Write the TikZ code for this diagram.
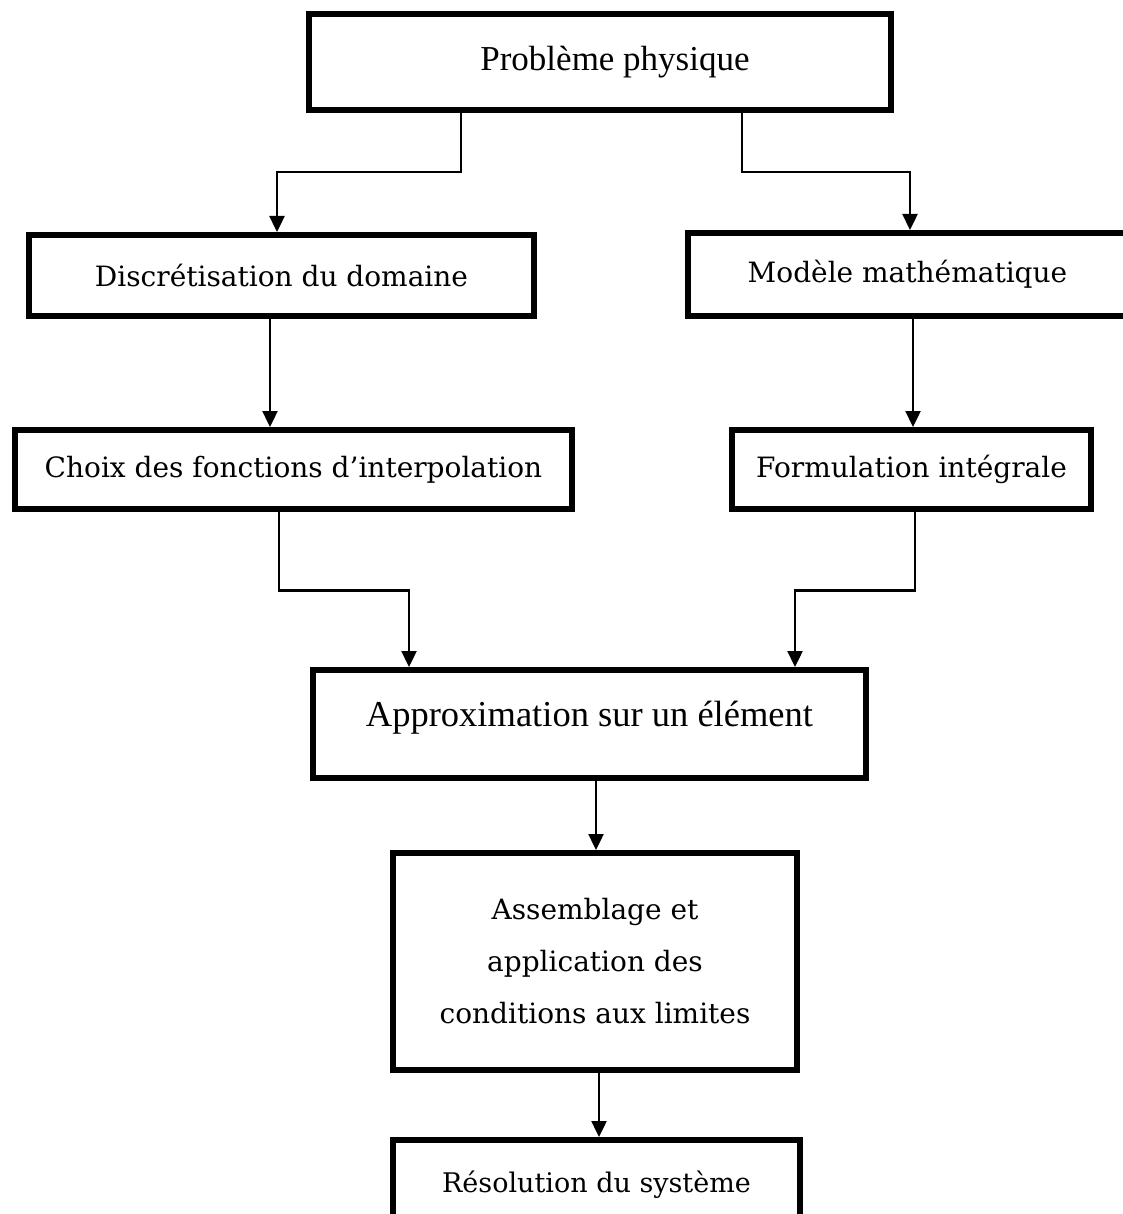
\documentclass[tikz,border=0pt]{standalone}
\usepackage{fontspec}
\setmainfont{DejaVu Serif}
\newfontfamily\narrowserif{Liberation Serif}
\usetikzlibrary{arrows.meta}
\begin{document}
\begin{tikzpicture}[x=1pt,y=-1pt,
  box/.style={draw, line width=5.7pt, inner sep=0pt, align=center,
              font=\fontsize{28}{52}\selectfont},
  narrowtext/.style={font=\narrowserif\fontsize{35}{40}\selectfont},
  conn/.style={line width=2.4pt, -{Triangle[length=16pt,width=15pt]}}]
  \useasboundingbox (0,0) rectangle (1123,1214);
  \clip (0,0) rectangle (1123,1214);

  % boxes of the flow chart
  \node[box, narrowtext, minimum width=582.3pt, minimum height=96.3pt] (P) at (600,62) {\hspace*{30pt}Problème physique};
  \node[box, minimum width=505.3pt, minimum height=81.3pt] (D) at (281.5,275.5) {Discrétisation du domaine};
  \node[box, minimum width=439.3pt, minimum height=83.3pt] (M) at (907.5,274.5) {Modèle mathématique};
  \node[box, minimum width=557.3pt, minimum height=79.3pt] (C) at (293.5,469.5) {Choix des fonctions d’interpolation};
  \node[box, minimum width=359.3pt, minimum height=79.3pt] (F) at (911.5,469.5) {Formulation intégrale};
  \node[box, font=\narrowserif\fontsize{36.5}{42}\selectfont, text depth=20pt,
        minimum width=553.3pt, minimum height=108.3pt] (A) at (589.5,724) {Approximation sur un élément};
  \node[box, minimum width=404.3pt, minimum height=217.3pt] (S) at (595,961.5) {Assemblage et\\application des\\conditions aux limites};
  \node[box, font=\fontsize{27}{32}\selectfont, minimum width=407.3pt, minimum height=90.3pt] (R) at (596.5,1185) {Résolution du système};

  % connectors
  \draw[conn] ([xshift=-139pt]P.south) -- ++(0,59) -| ([xshift=-4.5pt]D.north);
  \draw[conn] ([xshift=142pt]P.south) -- ++(0,59) -| ([xshift=2.5pt]M.north);
  \draw[conn] ([xshift=-11.5pt]D.south) -- ([xshift=-11.5pt]D.south |- C.north);
  \draw[conn] ([xshift=5.5pt]M.south) -- ([xshift=5.5pt]M.south |- F.north);
  \draw[conn] ([xshift=-14.5pt]C.south) -- ++(0,78.5) -| ([xshift=-180.5pt]A.north);
  \draw[conn] ([xshift=3.5pt]F.south) -- ++(0,78.5) -| ([xshift=205.5pt]A.north);
  \draw[conn] ([xshift=6.5pt]A.south) -- ([xshift=6.5pt]A.south |- S.north);
  \draw[conn] ([xshift=4pt]S.south) -- ([xshift=4pt]S.south |- R.north);
\end{tikzpicture}
\end{document}
